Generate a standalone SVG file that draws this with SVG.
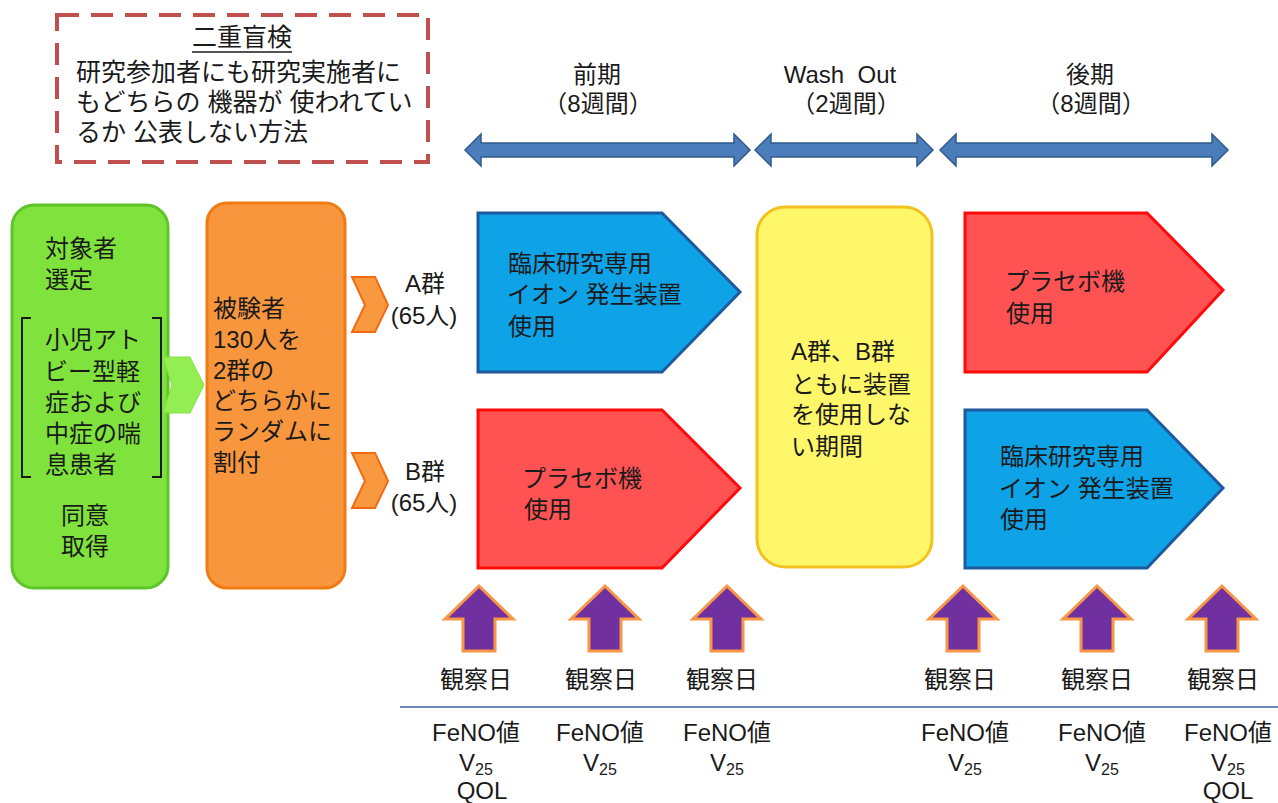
<svg xmlns="http://www.w3.org/2000/svg" width="1278" height="803" viewBox="0 0 1278 803">
<style>
text{font-family:"Liberation Sans","Noto Sans CJK JP",sans-serif;font-size:24px;fill:#1a1a1a}
text.s25{font-size:25px}
.c{text-anchor:middle}
.blue{fill:#0ea2e6;stroke:#1f5a9e;stroke-width:3}
.red{fill:#ff5353;stroke:#ff0a0a;stroke-width:3}
.dbl{fill:#4a7dba;stroke:#2f5a8c;stroke-width:1.5}
.chev{fill:#f8993f;stroke:#f36a12;stroke-width:2}
.obs{fill:#7030a0;stroke:#f79646;stroke-width:3;stroke-linejoin:miter}
.sub{font-size:16px}
</style>
<defs>
<path id="up" d="M0,-33 L34,0 L16,0 L16,32 L-16,32 L-16,0 L-34,0 Z"/>
</defs>
<rect width="1278" height="803" fill="#ffffff"/>

<g id="blind-note">
<rect x="57" y="15" width="371" height="147" fill="#ffffff" stroke="#c0504d" stroke-width="4" stroke-dasharray="22 12"/>
<text class="c s25" x="242" y="46">二重盲検</text>
<line x1="192" y1="52" x2="292" y2="52" stroke="#1a1a1a" stroke-width="1.5"/>
<text class="s25" x="76" y="81">研究参加者にも研究実施者に</text>
<text class="s25" x="76" y="111">もどちらの 機器が 使われてい</text>
<text class="s25" x="76" y="141">るか 公表しない方法</text>
</g>

<g id="period-labels">
<text class="c" x="597" y="83">前期</text>
<text class="c" x="598" y="112">（8週間）</text>
<text class="c" x="840" y="83">Wash&#160; Out</text>
<text class="c" x="846" y="112">（2週間）</text>
<text class="c" x="1090" y="83">後期</text>
<text class="c" x="1091" y="112">（8週間）</text>
</g>

<g id="connectors">
<path class="dbl" d="M465,150 L481,134 L481,143 L734,143 L734,134 L750,150 L734,166 L734,157 L481,157 L481,166 Z"/>
<path class="dbl" d="M755,150 L771,134 L771,143 L917,143 L917,134 L933,150 L917,166 L917,157 L771,157 L771,166 Z"/>
<path class="dbl" d="M940,150 L956,134 L956,143 L1212,143 L1212,134 L1228,150 L1212,166 L1212,157 L956,157 L956,166 Z"/>
<line x1="400" y1="707" x2="1278" y2="707" stroke="#6a86b8" stroke-width="2"/>
</g>

<g id="subjects">
<rect x="12" y="205" width="156" height="383" rx="22" fill="#80e23c" stroke="#5ec42a" stroke-width="3"/>
<text x="45" y="257">対象者</text>
<text x="45" y="288">選定</text>
<path d="M31,318 L22,318 L22,477 L31,477 M152,318 L161,318 L161,477 L152,477" fill="none" stroke="#1a1a1a" stroke-width="2"/>
<text x="45" y="348">小児アト</text>
<text x="44" y="380">ビー型軽</text>
<text x="45" y="411">症および</text>
<text x="45" y="442">中症の喘</text>
<text x="45" y="473">息患者</text>
<text class="c" x="85" y="524">同意</text>
<text class="c" x="85" y="555">取得</text>
</g>

<g id="subjects-chevron">
<polygon points="163,357 190,357 204,385 190,413 163,413 172,385" fill="#92ee52" stroke="#84e040" stroke-width="1"/>
</g>

<g id="randomize">
<rect x="207" y="203" width="138" height="385" rx="20" fill="#f8963e" stroke="#f27a12" stroke-width="3"/>
<text x="213" y="317">被験者</text>
<text x="213" y="348">130人を</text>
<text x="213" y="379">2群の</text>
<text x="212" y="409">どちらかに</text>
<text x="212" y="440">ランダムに</text>
<text x="213" y="471">割付</text>
</g>

<g id="group-a">
<polygon class="chev" points="352,277 375,277 388,305 375,332 352,332 365,305"/>
<text class="c" x="425" y="292">A群</text>
<text class="c" x="424" y="324">(65人)</text>
</g>

<g id="group-b">
<polygon class="chev" points="352,453 375,453 388,481 375,508 352,508 365,481"/>
<text class="c" x="425" y="480">B群</text>
<text class="c" x="424" y="511">(65人)</text>
</g>

<g id="phase1-a">
<polygon class="blue" points="478,213 662,213 740,292 662,372 478,372"/>
<text x="508" y="272">臨床研究専用</text>
<text x="507" y="303">イオン 発生装置</text>
<text x="508" y="335">使用</text>
</g>

<g id="phase1-b">
<polygon class="red" points="478,410 662,410 740,488 662,568 478,568"/>
<text x="522" y="487">プラセボ機</text>
<text x="524" y="518">使用</text>
</g>

<g id="washout">
<rect x="757" y="207" width="175" height="360" rx="28" fill="#fff76a" stroke="#f3c21f" stroke-width="3"/>
<text x="791" y="360">A群、B群</text>
<text x="791" y="393">ともに装置</text>
<text x="791" y="423">を使用しな</text>
<text x="791" y="455">い期間</text>
</g>

<g id="phase2-a">
<polygon class="red" points="965,213 1147,213 1223,290 1147,372 965,372"/>
<text x="1005" y="290">プラセボ機</text>
<text x="1006" y="322">使用</text>
</g>

<g id="phase2-b">
<polygon class="blue" points="965,410 1147,410 1223,488 1147,568 965,568"/>
<text x="1000" y="465">臨床研究専用</text>
<text x="999" y="497">イオン 発生装置</text>
<text x="1000" y="528">使用</text>
</g>

<g id="obs1">
<use href="#up" class="obs" x="479" y="619"/>
<text class="c" x="476" y="688">観察日</text>
<text class="c" x="476" y="741">FeNO値</text>
<text class="c" x="476" y="771">V<tspan class="sub" dy="4">25</tspan></text>
<text class="c" x="482" y="799">QOL</text>
</g>
<g id="obs2">
<use href="#up" class="obs" x="605" y="619"/>
<text class="c" x="601" y="688">観察日</text>
<text class="c" x="600" y="741">FeNO値</text>
<text class="c" x="600" y="771">V<tspan class="sub" dy="4">25</tspan></text>
</g>
<g id="obs3">
<use href="#up" class="obs" x="727" y="619"/>
<text class="c" x="722" y="688">観察日</text>
<text class="c" x="727" y="741">FeNO値</text>
<text class="c" x="727" y="771">V<tspan class="sub" dy="4">25</tspan></text>
</g>
<g id="obs4">
<use href="#up" class="obs" x="963" y="619"/>
<text class="c" x="960" y="688">観察日</text>
<text class="c" x="965" y="741">FeNO値</text>
<text class="c" x="965" y="771">V<tspan class="sub" dy="4">25</tspan></text>
</g>
<g id="obs5">
<use href="#up" class="obs" x="1097" y="619"/>
<text class="c" x="1097" y="688">観察日</text>
<text class="c" x="1102" y="741">FeNO値</text>
<text class="c" x="1102" y="771">V<tspan class="sub" dy="4">25</tspan></text>
</g>
<g id="obs6">
<use href="#up" class="obs" x="1222" y="619"/>
<text class="c" x="1223" y="688">観察日</text>
<text class="c" x="1228" y="741">FeNO値</text>
<text class="c" x="1228" y="771">V<tspan class="sub" dy="4">25</tspan></text>
<text class="c" x="1228" y="799">QOL</text>
</g>
</svg>
